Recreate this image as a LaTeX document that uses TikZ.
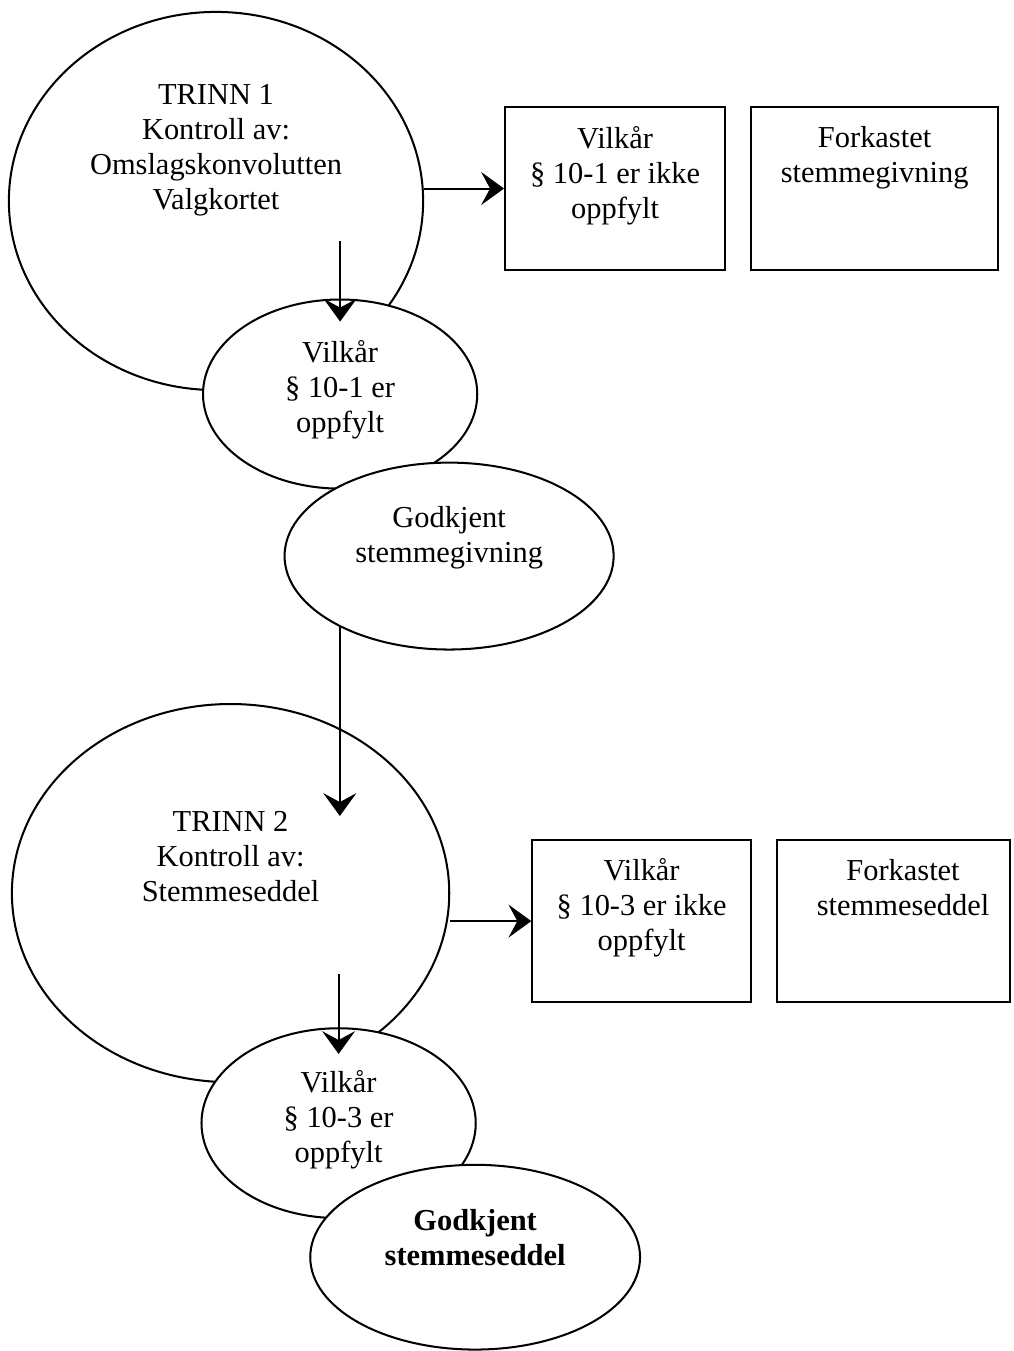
\documentclass[tikz,border=0pt]{standalone}
\usepackage{fontspec}
\setmainfont{Liberation Serif}
\usetikzlibrary{shapes.geometric, arrows.meta, positioning}
\tikzset{
    trinn/.style={ellipse, minimum width=5.74cm, minimum height=5.24cm, inner sep=0pt, draw=black, fill=white, line width=0.8pt},
    vilkaar/.style={ellipse, minimum width=3.8cm, minimum height=2.62cm, inner sep=0pt, draw=black, fill=white, line width=0.8pt},
    godkjent/.style={ellipse, minimum width=4.56cm, minimum height=2.59cm, inner sep=0pt, draw=black, fill=white, line width=0.8pt},
    boks/.style={rectangle, minimum width=3.05cm, minimum height=2.25cm, inner sep=0pt, draw=black, fill=white, line width=0.8pt},
    tekst/.style={align=center, inner sep=0pt, font=\fontsize{12}{13.8}\selectfont},
    arrow/.style={line width=0.8pt, -{Stealth[length=9pt, width=13pt, inset=3.5pt]}}
}
\begin{document}
\begin{tikzpicture}[node distance=2.5cm]
    \useasboundingbox (0,0) rectangle (14.04,-18.72);

    % Nodes, trinn 1
    \node (trinn1) [trinn] at (2.993,-2.785) {};
    \node (vilkaar1) [vilkaar, below of=trinn1, xshift=1.72cm, yshift=-0.175cm] {};
    \node (godkjent1) [godkjent, below of=vilkaar1, xshift=1.51cm, yshift=0.255cm] {};
    \node (ikke1) [boks, right of=trinn1, xshift=3.03cm, yshift=0.173cm] {};
    \node (forkastet1) [boks, minimum width=3.42cm, right of=ikke1, xshift=1.096cm] {};

    % Nodes, trinn 2
    \node (trinn2) [trinn, minimum width=6.06cm, below of=godkjent1, xshift=-3.028cm, yshift=-2.17cm] {};
    \node (vilkaar2) [vilkaar, minimum height=2.63cm, below of=trinn2, xshift=1.497cm, yshift=-0.688cm] {};
    \node (godkjent2) [godkjent, minimum width=4.57cm, minimum height=2.56cm, below of=vilkaar2, xshift=1.892cm, yshift=0.643cm] {};
    \node (ikke2) [boks, minimum width=3.03cm, right of=trinn2, xshift=3.196cm, yshift=-0.388cm] {};
    \node (forkastet2) [boks, minimum width=3.23cm, right of=ikke2, xshift=0.992cm] {};

    % Texts
    \node (trinn1tekst) [tekst] at ([yshift=0.71cm]trinn1.center) {TRINN 1\\Kontroll av:\\Omslagskonvolutten\\Valgkortet};
    \node (vilkaar1tekst) [tekst] at ([yshift=0.06cm]vilkaar1.center) {Vilkår\\§ 10-1 er\\oppfylt};
    \node (godkjent1tekst) [tekst] at ([yshift=0.25cm]godkjent1.center) {Godkjent\\stemmegivning};
    \node (ikke1tekst) [tekst] at ([yshift=0.175cm]ikke1.center) {Vilkår\\§ 10-1 er ikke\\oppfylt};
    \node (forkastet1tekst) [tekst] at ([yshift=0.43cm]forkastet1.center) {Forkastet\\stemmegivning};
    \node (trinn2tekst) [tekst] at ([yshift=0.51cm]trinn2.center) {TRINN 2\\Kontroll av:\\Stemmeseddel};
    \node (vilkaar2tekst) [tekst] at ([yshift=0.05cm]vilkaar2.center) {Vilkår\\§ 10-3 er\\oppfylt};
    \node (godkjent2tekst) [tekst, font=\fontsize{12}{13.8}\selectfont\bfseries] at ([yshift=0.27cm]godkjent2.center) {Godkjent\\stemmeseddel};
    \node (ikke2tekst) [tekst] at ([yshift=0.19cm]ikke2.center) {Vilkår\\§ 10-3 er ikke\\oppfylt};
    \node (forkastet2tekst) [tekst] at ([xshift=0.13cm, yshift=0.46cm]forkastet2.center) {Forkastet\\stemmeseddel};

    % Arrows
    \coordinate (trinn1ut) at ([yshift=0.79cm]vilkaar1.north);
    \coordinate (trinn2inn) at ([yshift=-1.566cm]trinn2.north);
    \coordinate (trinn2ut) at ([yshift=0.734cm]vilkaar2.north);
    \draw [arrow] (ikke1.west -| trinn1.east) -- (ikke1.west);
    \draw [arrow] (trinn1ut) -- ([yshift=-0.32cm]vilkaar1.north);
    \draw [arrow] (godkjent1.213) -- (godkjent1.213 |- trinn2inn);
    \draw [arrow] (ikke2.west -| trinn2.east) -- (ikke2.west);
    \draw [arrow] (trinn2ut) -- ([yshift=-0.37cm]vilkaar2.north);

\end{tikzpicture}
\end{document}
